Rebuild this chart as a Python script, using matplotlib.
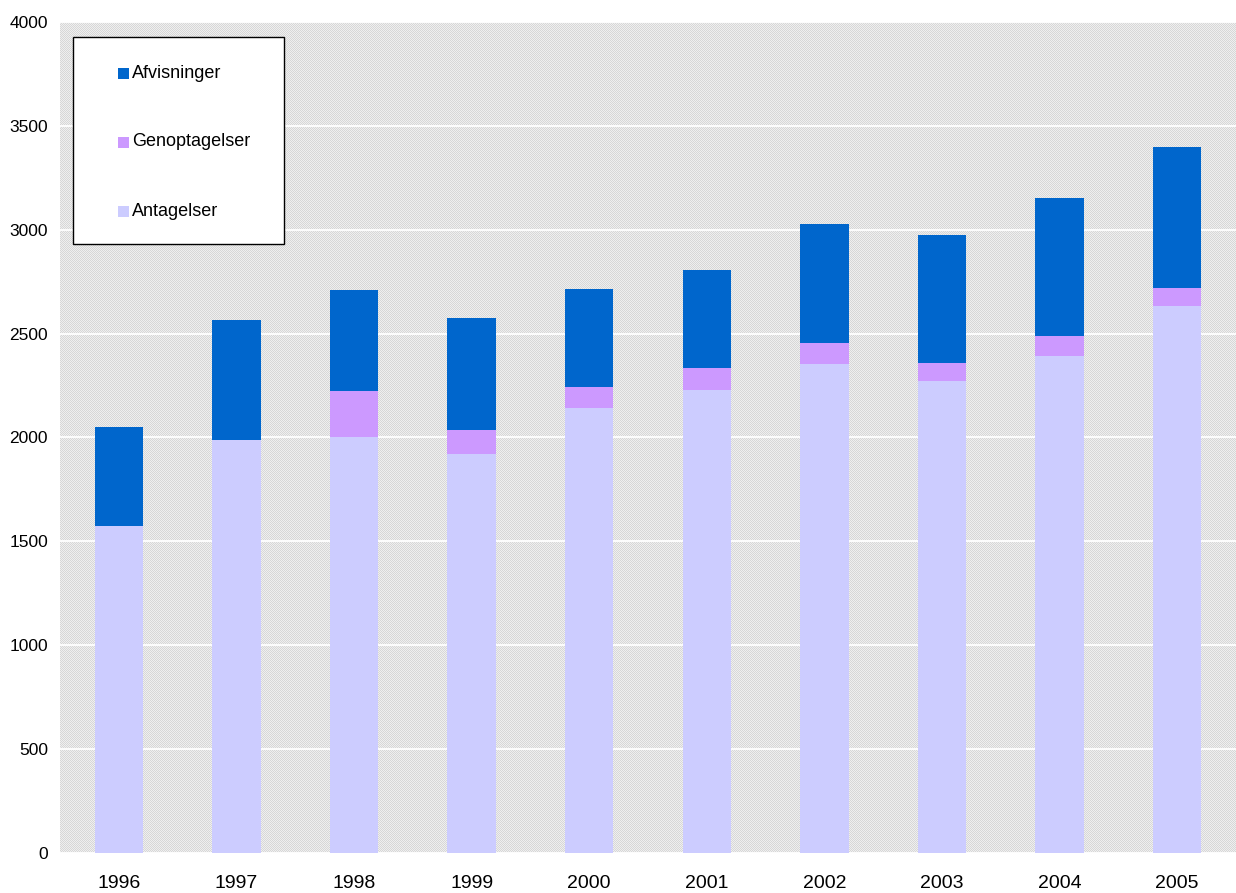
import matplotlib
matplotlib.use("Agg")
import matplotlib.pyplot as plt
import numpy as np
from matplotlib.patches import Rectangle

years = ["1996", "1997", "1998", "1999", "2000", "2001", "2002", "2003", "2004", "2005"]
antagelser = [1574, 1988, 2002, 1921, 2142, 2229, 2354, 2272, 2392, 2633]
genoptagelser = [0, 0, 222, 115, 101, 106, 101, 87, 97, 87]
afvisninger = [476, 578, 486, 539, 472, 471, 573, 616, 664, 678]
legend_labels = ["Afvisninger", "Genoptagelser", "Antagelser"]

c_ant = "#ccccff"
c_gen = "#cc99ff"
c_afv = "#0066cc"

plt.rcParams['font.family'] = ['Liberation Sans', 'DejaVu Sans']

W, H = 1236, 893
fig = plt.figure(figsize=(W / 100, H / 100), dpi=100)
ax = fig.add_axes([60 / W, 40 / H, 1176 / W, 831 / H])

# dotted background texture
ph, pw = 831, 1176
ii, jj = np.mgrid[0:ph, 0:pw]
tex = np.where(((ii + jj) % 2) == 0, 0.84, 0.935)
ax.imshow(tex, cmap="gray", vmin=0, vmax=1, extent=(-0.5, len(years) - 0.5, 0, 4000),
          aspect="auto", interpolation="nearest", zorder=0)

x = np.arange(len(years))
w = 0.41
ant = np.array(antagelser)
gen = np.array(genoptagelser)
afv = np.array(afvisninger)
ax.bar(x, ant, w, color=c_ant, zorder=3)
ax.bar(x, gen, w, bottom=ant, color=c_gen, zorder=3)
ax.bar(x, afv, w, bottom=ant + gen, color=c_afv, zorder=3)

ax.set_xlim(-0.5, len(years) - 0.5)
ax.set_ylim(0, 4000)
ax.set_yticks(np.arange(0, 4001, 500))
ax.set_xticks(x)
ax.set_xticklabels(years)
ax.yaxis.grid(True, color="white", linewidth=1.3, zorder=1)
ax.set_axisbelow(False)
for gl in ax.get_ygridlines():
    gl.set_zorder(1)
ax.tick_params(axis="both", length=0)
ax.tick_params(axis="x", pad=16, labelsize=14)
ax.tick_params(axis="y", pad=8.6, labelsize=12.5)
for s in ax.spines.values():
    s.set_visible(False)

# legend box drawn in figure pixel coordinates
def fx(px):
    return px / W

def fy(py):
    return 1 - py / H

fig.patches.append(Rectangle((fx(73), fy(244)), 211 / W, 207 / H, transform=fig.transFigure,
                             facecolor="white", edgecolor="black", linewidth=1.0, zorder=5))
for lab, col, yc in zip(legend_labels, [c_afv, c_gen, c_ant], [73, 142, 211]):
    fig.patches.append(Rectangle((fx(118), fy(yc + 5.5)), 11 / W, 11 / H,
                                 transform=fig.transFigure, facecolor=col,
                                 edgecolor="none", zorder=6))
    fig.text(fx(132), fy(yc), lab, fontsize=13, va="center", ha="left", zorder=7)

fig.savefig("out.png", dpi=100, facecolor="white")
